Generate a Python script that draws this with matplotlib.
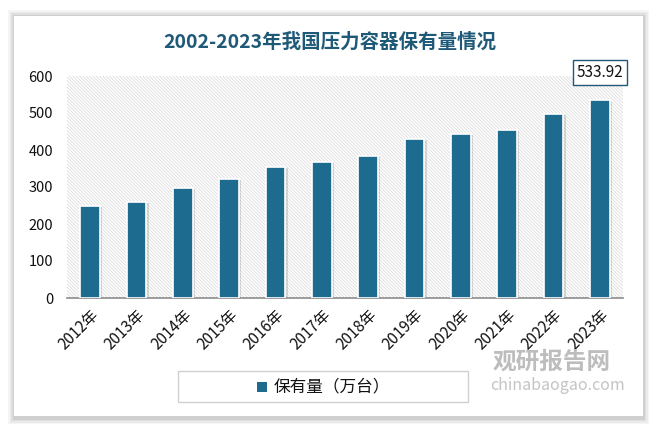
import matplotlib.pyplot as plt
from matplotlib.patches import Rectangle
import numpy as np

years = ['2012年', '2013年', '2014年', '2015年', '2016年', '2017年',
         '2018年', '2019年', '2020年', '2021年', '2022年', '2023年']
values = [250, 260, 298, 322, 355, 368, 385, 430, 444, 455, 498, 533.92]

title = '2002-2023年我国压力容器保有量情况'
series_name = '保有量（万台）'

plt.rcParams['font.family'] = ['Noto Sans CJK SC', 'DejaVu Sans']
plt.rcParams['hatch.linewidth'] = 0.5

C_BAR = '#1D6B8F'
C_TITLE = '#1E5A78'

fig = plt.figure(figsize=(6.59, 4.32), dpi=100)
fig.patch.set_facecolor('white')

# card with soft shadow
for i, a in enumerate([0.04, 0.04, 0.05, 0.07]):
    d = (4 - i) * 1.5
    fig.patches.append(Rectangle(((14 - d) / 659, (14 - d) / 432),
                                 (629 + 2 * d) / 659, (402 + 2 * d) / 432,
                                 transform=fig.transFigure, facecolor='#000000',
                                 alpha=a, edgecolor='none', zorder=0))
fig.patches.append(Rectangle((14 / 659, 16 / 432), 629 / 659, 400 / 432,
                             transform=fig.transFigure, facecolor='white',
                             edgecolor='none', zorder=1))

ax = fig.add_axes([67 / 659, 134 / 432, 556 / 659, 222 / 432], zorder=2)
ax.patch.set_facecolor('white')
ax.patch.set_hatch('\\' * 10)
ax.patch.set_edgecolor('#D6D6D6')
ax.patch.set_linewidth(0)

x = np.arange(len(years))
w = 0.42
# soft shadow behind bars
ax.bar(x + 0.05, values, width=w, color='#000000', alpha=0.13, zorder=2,
       linewidth=0, bottom=-3)
ax.bar(x, values, width=w, color=C_BAR, edgecolor='white', linewidth=1.2,
       zorder=3, label=series_name)

ax.set_xlim(-0.5, len(years) - 0.5)
ax.set_ylim(0, 600)
ax.set_yticks(np.arange(0, 601, 100))
ax.set_xticks(x)
ax.set_xticklabels(years, rotation=45, ha='right', rotation_mode='anchor',
                   fontsize=11)
ax.tick_params(axis='both', length=0, colors='#111111')
ax.tick_params(axis='y', pad=10, labelsize=10.5)
ax.tick_params(axis='x', pad=6)
for s in ['top', 'right', 'left']:
    ax.spines[s].set_visible(False)
ax.spines['bottom'].set_color('#8C8C8C')
ax.spines['bottom'].set_linewidth(1.2)

ax.annotate(f'{values[-1]:.2f}', xy=(x[-1], values[-1]), xytext=(0, 20),
            textcoords='offset points', ha='center', va='center', fontsize=11,
            color='#111111',
            bbox=dict(boxstyle='square,pad=0.25', facecolor='white',
                      edgecolor=C_TITLE, linewidth=1))

fig.text(0.5, 1 - 42 / 432, title, ha='center', va='center', fontsize=14,
         color=C_TITLE, fontweight='bold')

# legend
fig.patches.append(Rectangle((178 / 659, 30 / 432), 290 / 659, 31 / 432,
                             transform=fig.transFigure, facecolor='white',
                             edgecolor='#D0D0D0', linewidth=1, zorder=3))
fig.patches.append(Rectangle((257 / 659, 40 / 432), 10 / 659, 10 / 432,
                             transform=fig.transFigure, facecolor=C_BAR,
                             edgecolor='none', zorder=4))
fig.text(274 / 659, 45 / 432, series_name, ha='left', va='center', fontsize=12,
         color='#111111', zorder=5)

# watermark
fig.text(493 / 659, 1 - 362 / 432, '观研报告网', ha='left', va='center',
         fontsize=17, fontweight='bold', color='#BDBDBD', zorder=5)
fig.text(490 / 659, 1 - 386 / 432, 'chinabaogao.com', ha='left', va='center',
         fontsize=11.5, color='#C4C4C4', zorder=5)

fig.savefig('out.png', dpi=100, facecolor=fig.get_facecolor())
